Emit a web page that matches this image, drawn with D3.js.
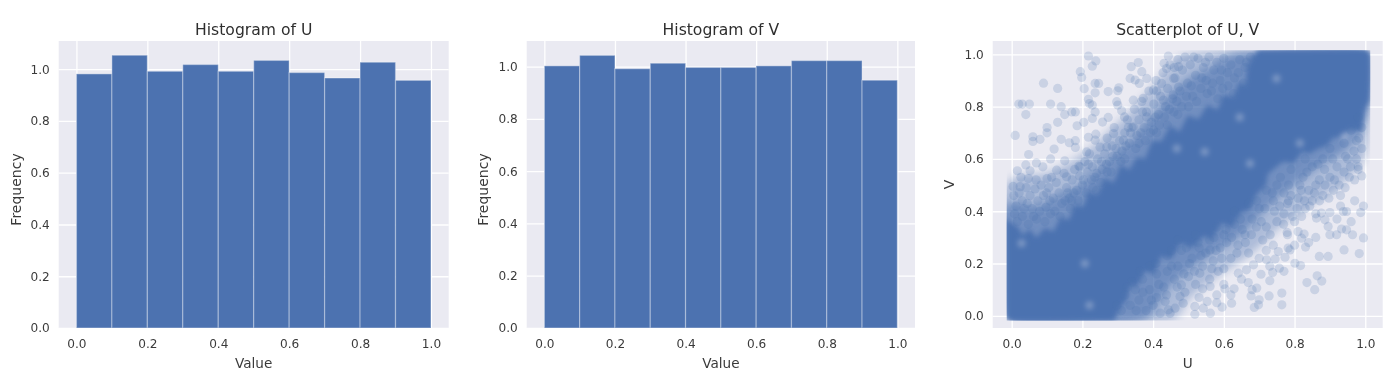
<!DOCTYPE html>
<html>
<head>
<meta charset="utf-8">
<script src="https://cdnjs.cloudflare.com/ajax/libs/d3/7.8.5/d3.min.js"></script>
<style>
html,body{margin:0;padding:0;background:#fff;}
svg{display:block;filter:blur(0.4px);}
text{font-family:"DejaVu Sans",sans-serif;}
</style>
</head>
<body>
<svg id="c" width="1400" height="386"></svg>
<script>
// ---------- data ----------
const binEdges = [0,0.1,0.2,0.3,0.4,0.5,0.6,0.7,0.8,0.9,1.0];
const histU = [0.982,1.054,0.992,1.018,0.992,1.034,0.987,0.966,1.027,0.957];
const histV = [1.003,1.043,0.992,1.013,0.997,0.997,1.003,1.023,1.023,0.948];
const tickValues = [0,0.2,0.4,0.6,0.8,1.0];

// Individually read points: sparse region above the diagonal
const pointsUpper = [[.01,.69],[.02,.81],[.03,.81],[.05,.81],[.04,.77],[.09,.89],[.13,.87],[.11,.81],[.14,.80],[.15,.77],[.17,.78],[.18,.78],[.13,.74],[.10,.72],[.10,.70],[.06,.685],[.06,.667],[.08,.675],[.14,.675],[.163,.662],[.18,.67],[.18,.644],[.12,.638],[.048,.617],[.04,.577],[.07,.585],[.016,.555],[.026,.53],[.052,.555],[.088,.57],[.11,.60],[.15,.593],[.004,.495],[.024,.494],[.047,.525],[.069,.52],[.10,.525],[.127,.557],[.155,.532],[.19,.573],[.217,.994],[.238,.975],[.228,.955],[.194,.934],[.198,.912],[.205,.869],[.236,.889],[.246,.889],[.236,.853],[.273,.858],[.303,.872],[.30,.861],[.217,.828],[.22,.812],[.228,.806],[.236,.78],[.228,.755],[.204,.74],[.185,.727],[.257,.741],[.273,.759],[.297,.819],[.30,.806],[.311,.784],[.319,.761],[.338,.953],[.358,.969],[.368,.934],[.335,.908],[.349,.902],[.361,.889],[.382,.908],[.344,.825],[.372,.832],[.401,.864],[.424,.889],[.431,.966],[.443,.994],[.438,.946],[.458,.908],[.217,.683],[.238,.695],[.236,.672],[.212,.627],[.193,.57],[.24,.545],[.269,.646],[.288,.697],[.316,.672],[.344,.723],[.382,.761],[.401,.71],[.429,.825],[.457,.845],[.472,.953],[.472,.875],
[.006,.46],[.012,.42],[.021,.47],[.03,.44],[.041,.49],[.052,.46],[.058,.41],[.066,.485],[.074,.44],[.083,.50],[.09,.46],[.097,.415],[.105,.49],[.113,.53],[.118,.45],[.126,.51],[.134,.47],[.142,.43],[.148,.545],[.155,.49],[.163,.45],[.171,.52],[.178,.56],[.184,.48],[.192,.535],[.20,.50],[.207,.59],[.214,.55],[.22,.62],[.228,.57],[.235,.53],[.243,.60],[.25,.645],[.256,.56],[.263,.62],[.27,.68],[.277,.59],[.284,.65],[.29,.72],[.298,.61],[.305,.67],[.312,.63],[.32,.70],[.327,.75],[.333,.66],[.34,.72],[.347,.79],[.354,.69],[.36,.75],[.368,.82],[.375,.72],[.381,.78],[.388,.86],[.395,.74],[.402,.81],[.408,.90],[.415,.77],[.421,.84],[.428,.93],[.435,.80],[.441,.87],[.448,.96],[.455,.83],[.462,.91],[.47,.98],[.476,.86],[.483,.94],[.49,.99],[.497,.89],[.505,.96],[.512,.84],[.52,.92],[.527,.985],[.535,.87],[.542,.95],[.55,.90],[.558,.99],[.565,.86],[.572,.94],[.58,.97],[.59,.90],[.60,.985],[.61,.93],[.62,.96],[.63,.91],[.645,.98],[.66,.95],[.675,.99],[.50,.80],[.47,.77],[.44,.73],[.41,.70],[.36,.66],[.32,.60],[.27,.55],[.23,.49],[.17,.44],[.11,.39],[.07,.37],[.03,.38],
[.008,.39],[.016,.36],[.035,.41],[.047,.35],[.062,.38],[.079,.40],[.094,.36],[.108,.44],[.122,.40],[.137,.38],[.151,.44],[.166,.41],[.176,.47],[.188,.44],[.203,.52],[.211,.47],[.226,.52],[.24,.48],[.252,.51],[.268,.58],[.281,.55],[.295,.64],[.309,.59],[.323,.65],[.336,.70],[.351,.64],[.365,.70],[.378,.67],[.392,.70],[.406,.76],[.418,.73],[.432,.76],[.446,.79],[.459,.78],[.467,.82],[.481,.80],[.494,.84],[.508,.88],[.523,.82],[.538,.91],[.553,.85],[.568,.89],[.583,.83],[.597,.87],[.612,.88],[.627,.85],[.641,.93],[.655,.89],[.664,.97],[.593,.94],[.548,.97],[.515,.99],[.46,.95],[.41,.86],[.37,.78],[.33,.72],[.286,.61],[.254,.59],[.217,.58],[.158,.47],[.099,.47],[.044,.43]];

// Individually read points: sparse region below the diagonal
const pointsLower = [[.987,.395],[.938,.399],[.947,.399],[.90,.395],[.862,.374],[.876,.393],[.886,.367],[.895,.342],[.919,.31],[.933,.332],[.947,.329],[.964,.31],[.995,.298],[.831,.263],[.81,.322],[.827,.313],[.82,.297],[.779,.319],[.87,.227],[.895,.227],[.94,.252],[.983,.238],[.801,.201],[.817,.192],[.787,.252],[.773,.224],[.757,.182],[.738,.166],[.73,.134],[.705,.159],[.669,.127],[.693,.106],[.629,.103],[.603,.103],[.54,.103],[.561,.112],[.58,.08],[.677,.076],[.728,.076],[.764,.087],[.764,.042],[.70,.061],[.698,.042],[.686,.032],[.622,.048],[.595,.033],[.553,.055],[.518,.036],[.518,.006],[.542,.029],[.562,.01],[.448,.01],[.485,.048],[.48,.118],[.721,.214],[.745,.217],[.754,.246],[.782,.259],[.684,.195],[.664,.176],[.641,.163],[.584,.17],[.561,.252],[.532,.163],[.476,.074],[.434,.055],[.443,.023],[.462,.029],[.835,.127],[.857,.1],[.877,.133],[.864,.153],[.72,.25],[.80,.36],[.83,.41],[.78,.43],[.85,.44],[.77,.47],[.98,.57],[.99,.535],[.995,.42],[.98,.56],[.955,.53],[.99,.64],[.975,.67],[.975,.60],[.90,.53],[.87,.52],[.885,.56],[.94,.55],[.86,.50],[.815,.50],[.835,.55],[.75,.50],
[.42,.01],[.40,.04],[.38,.02],[.36,.06],[.41,.07],[.39,.10],[.35,.10],[.37,.14],[.43,.11],[.46,.14],[.44,.17],[.41,.16],[.47,.19],[.50,.15],[.52,.12],[.49,.09],[.53,.07],[.56,.14],[.54,.19],[.51,.22],[.48,.25],[.53,.26],[.57,.21],[.60,.18],[.62,.22],[.59,.26],[.56,.29],[.60,.31],[.64,.27],[.67,.24],[.70,.22],[.66,.31],[.63,.35],[.68,.37],[.71,.29],[.74,.27],[.72,.34],[.70,.41],[.75,.36],[.78,.31],[.77,.39],[.74,.44],[.79,.46],[.82,.38],[.81,.45],[.84,.48],[.86,.39],[.88,.46],[.85,.57],[.88,.60],[.91,.48],[.93,.46],[.92,.57],[.95,.60],[.97,.52],[.90,.64],[.94,.66],[.96,.71],[.99,.72],[.98,.76],[.83,.60],[.79,.56],[.76,.53],[.72,.48],[.67,.43],[.63,.40],[.58,.34],[.52,.31],[.47,.29],[.44,.23],[.39,.19],[.34,.13],[.32,.08],[.31,.02],[.60,.12],[.65,.14],[.68,.10],[.62,.08],[.58,.05],[.73,.19],[.77,.17],[.80,.27],[.84,.28],[.86,.30],[.90,.31],[.92,.37],[.96,.36],[.97,.44],[.93,.42],
[.335,.04],[.352,.02],[.371,.09],[.395,.06],[.416,.12],[.438,.08],[.452,.19],[.468,.11],[.487,.16],[.503,.20],[.517,.17],[.535,.23],[.549,.24],[.566,.18],[.578,.25],[.594,.22],[.608,.28],[.622,.30],[.637,.24],[.652,.33],[.661,.28],[.678,.31],[.692,.34],[.706,.36],[.716,.41],[.731,.31],[.743,.40],[.758,.42],[.769,.35],[.783,.44],[.794,.38],[.807,.41],[.819,.48],[.828,.44],[.843,.42],[.856,.47],[.871,.44],[.886,.50],[.897,.45],[.913,.52],[.926,.50],[.943,.49],[.958,.57],[.968,.63],[.982,.68],[.944,.61],[.908,.60],[.866,.58],[.824,.53],[.783,.50],[.737,.47],[.693,.44],[.647,.37],[.606,.33],[.572,.30],[.527,.28],[.494,.26],[.452,.25],[.408,.20],[.363,.17],[.327,.11],[.297,.04]];

// Saturated area, where single points cannot be read: outlines
const denseCore = [[-.012,.36],[.015,.335],[.03,.30],[.05,.325],[.07,.29],[.095,.33],[.12,.315],[.14,.37],[.165,.36],[.18,.42],[.205,.41],[.22,.47],[.245,.455],[.265,.52],[.29,.50],[.31,.57],[.335,.55],[.355,.60],[.38,.595],[.40,.665],[.425,.66],[.45,.72],[.476,.695],[.50,.76],[.53,.745],[.555,.80],[.585,.78],[.60,.84],[.63,.83],[.645,.885],[.665,.87],[.67,.95],[.683,.985],[.70,1.012],[.85,1.012],[1.0,1.014],[1.011,1.0],[1.01,.90],[1.008,.826],[.994,.787],[.985,.71],[.955,.72],[.928,.69],[.905,.685],[.89,.655],[.865,.645],[.84,.625],[.82,.635],[.796,.59],[.765,.595],[.72,.545],[.715,.50],[.69,.47],[.67,.41],[.646,.40],[.62,.345],[.59,.36],[.565,.30],[.54,.31],[.51,.265],[.476,.285],[.45,.225],[.42,.235],[.40,.165],[.375,.18],[.35,.115],[.335,.13],[.32,.06],[.306,.04],[.287,-.013],[.10,-.016],[.0,-.016],[-.012,-.005]];
const innerBand = [[-.012,.43],[.06,.42],[.13,.46],[.19,.50],[.25,.57],[.30,.63],[.35,.69],[.40,.77],[.45,.85],[.50,.91],[.56,.95],[.62,1.0],[.70,1.012],[1.0,1.012],[1.01,.80],[.99,.72],[.95,.64],[.88,.58],[.82,.52],[.76,.46],[.70,.38],[.64,.30],[.58,.25],[.52,.19],[.46,.13],[.42,.06],[.38,-.013],[.0,-.013]];
const midBand = [[-.012,.51],[.108,.55],[.212,.63],[.287,.72],[.363,.82],[.438,.94],[.476,.99],[.55,1.01],[.683,1.012],[1.01,1.012],[1.012,.80],[.995,.60],[.93,.50],[.85,.43],[.76,.34],[.68,.24],[.56,.13],[.50,.06],[.46,-.012],[.287,-.013],[-.012,-.013]];
// Small lighter spots visible inside the saturated area
const corePatches = [[.749,.908],[.645,.76],[.674,.583],[.546,.628],[.467,.64],[.815,.66],[.942,.685],[.22,.04],[.207,.2],[.028,.278]];

// ---------- drawing ----------
const svg = d3.select("#c");
const colour = "#4c72b0";
const panelBg = "#eaeaf2";
const defs = svg.append("defs");
function blurFilter(id, sd) {
  defs.append("filter").attr("id", id).attr("x", "-20%").attr("y", "-20%").attr("width", "140%").attr("height", "140%")
    .append("feGaussianBlur").attr("stdDeviation", sd);
}
blurFilter("soft", 4);
blurFilter("softCore", 2.4);
// Each patch is tiny, so it gets a filter region in absolute pixels
defs.append("filter").attr("id", "softPatch").attr("filterUnits", "userSpaceOnUse")
  .attr("x", 985).attr("y", 35).attr("width", 405).attr("height", 300)
  .append("feGaussianBlur").attr("stdDeviation", 2.5);

function panel(box, xDomain, yDomain) {
  const x = d3.scaleLinear().domain(xDomain).range([box.l, box.r]);
  const y = d3.scaleLinear().domain(yDomain).range([box.b, box.t]);
  const g = svg.append("g");
  g.append("rect").attr("x", box.l).attr("y", box.t)
    .attr("width", box.r - box.l).attr("height", box.b - box.t).attr("fill", panelBg);
  const xAxis = g.append("g").attr("transform", `translate(0,${box.b})`)
    .call(d3.axisBottom(x).tickValues(tickValues).tickFormat(d3.format(".1f")).tickSize(box.t - box.b));
  const yAxis = g.append("g").attr("transform", `translate(${box.l},0)`)
    .call(d3.axisLeft(y).tickValues(tickValues).tickFormat(d3.format(".1f")).tickSize(box.l - box.r));
  [xAxis, yAxis].forEach(a => {
    a.select(".domain").remove();
    a.selectAll("line").attr("stroke", "#fff").attr("stroke-width", 1.3);
    a.selectAll("text").attr("font-size", 12.1).attr("font-family", '"DejaVu Sans"').attr("fill", "#3a3a3a");
  });
  xAxis.selectAll("text").attr("y", 11).attr("dy", "0.71em");
  yAxis.selectAll("text").attr("x", -9);
  return {x, y, g};
}

function titles(p, box, title, xl, yl, yx, yShift) {
  p.g.append("text").attr("x", (box.l + box.r) / 2).attr("y", 34.5).attr("text-anchor", "middle")
    .attr("font-size", 15.6).attr("fill", "#2e2e2e").text(title);
  p.g.append("text").attr("x", (box.l + box.r) / 2).attr("y", 367.5).attr("text-anchor", "middle")
    .attr("font-size", 13.6).attr("fill", "#3a3a3a").text(xl);
  p.g.append("text").attr("transform", `translate(${yx},${(box.t + box.b) / 2 + yShift}) rotate(-90)`)
    .attr("text-anchor", "middle").attr("font-size", 14).attr("fill", "#3a3a3a").text(yl);
}

function histogram(box, values, yMax, title, yx) {
  const p = panel(box, [-0.05, 1.05], [0, yMax]);
  p.g.selectAll("rect.bar").data(values).join("rect").attr("class", "bar")
    .attr("x", (d, i) => p.x(binEdges[i]))
    .attr("width", (d, i) => p.x(binEdges[i + 1]) - p.x(binEdges[i]))
    .attr("y", d => p.y(d))
    .attr("height", d => p.y(0) - p.y(d))
    .attr("fill", colour)
    .attr("stroke", "rgba(255,255,255,0.3)")
    .attr("stroke-width", 1.3);
  titles(p, box, title, "Value", "Frequency", yx, 5);
}

histogram({l: 58.7, r: 448.7, t: 41, b: 328}, histU, 1.109, "Histogram of U", 21);
histogram({l: 526.7, r: 915, t: 41, b: 328}, histV, 1.098, "Histogram of V", 488);

const sBox = {l: 992.7, r: 1382.7, t: 41, b: 328};
const sp = panel(sBox, [-0.0537, 1.0493], [-0.0467, 1.0513]);
titles(sp, sBox, "Scatterplot of U, V", "U", "V", 954, 0);
const smooth = d3.line().x(d => sp.x(d[0])).y(d => sp.y(d[1])).curve(d3.curveCatmullRomClosed.alpha(0.5));
const straight = d3.line().x(d => sp.x(d[0])).y(d => sp.y(d[1])).curve(d3.curveLinearClosed);
sp.g.append("clipPath").attr("id", "rim").append("path").attr("d", straight([[-.014,1.016],[1.014,1.016],[1.014,-.018],[-.014,-.018]]));
const bands = sp.g.append("g").attr("clip-path", "url(#rim)");
bands.append("path").attr("d", smooth(midBand)).attr("fill", colour).attr("opacity", 0.38).attr("filter", "url(#soft)");
bands.append("path").attr("d", smooth(innerBand)).attr("fill", colour).attr("opacity", 0.6).attr("filter", "url(#soft)");
bands.append("path").attr("d", straight(denseCore)).attr("fill", colour).attr("stroke", colour).attr("stroke-width", 3).attr("filter", "url(#softCore)");
sp.g.append("g").attr("filter", "url(#softPatch)").selectAll("circle").data(corePatches).join("circle")
  .attr("cx", d => sp.x(d[0])).attr("cy", d => sp.y(d[1])).attr("r", 4)
  .attr("fill", panelBg).attr("fill-opacity", 0.3);
sp.g.append("g").selectAll("circle").data(pointsUpper.concat(pointsLower)).join("circle")
  .attr("cx", d => sp.x(d[0])).attr("cy", d => sp.y(d[1])).attr("r", 4.6)
  .attr("fill", colour).attr("fill-opacity", 0.2);
</script>
</body>
</html>
